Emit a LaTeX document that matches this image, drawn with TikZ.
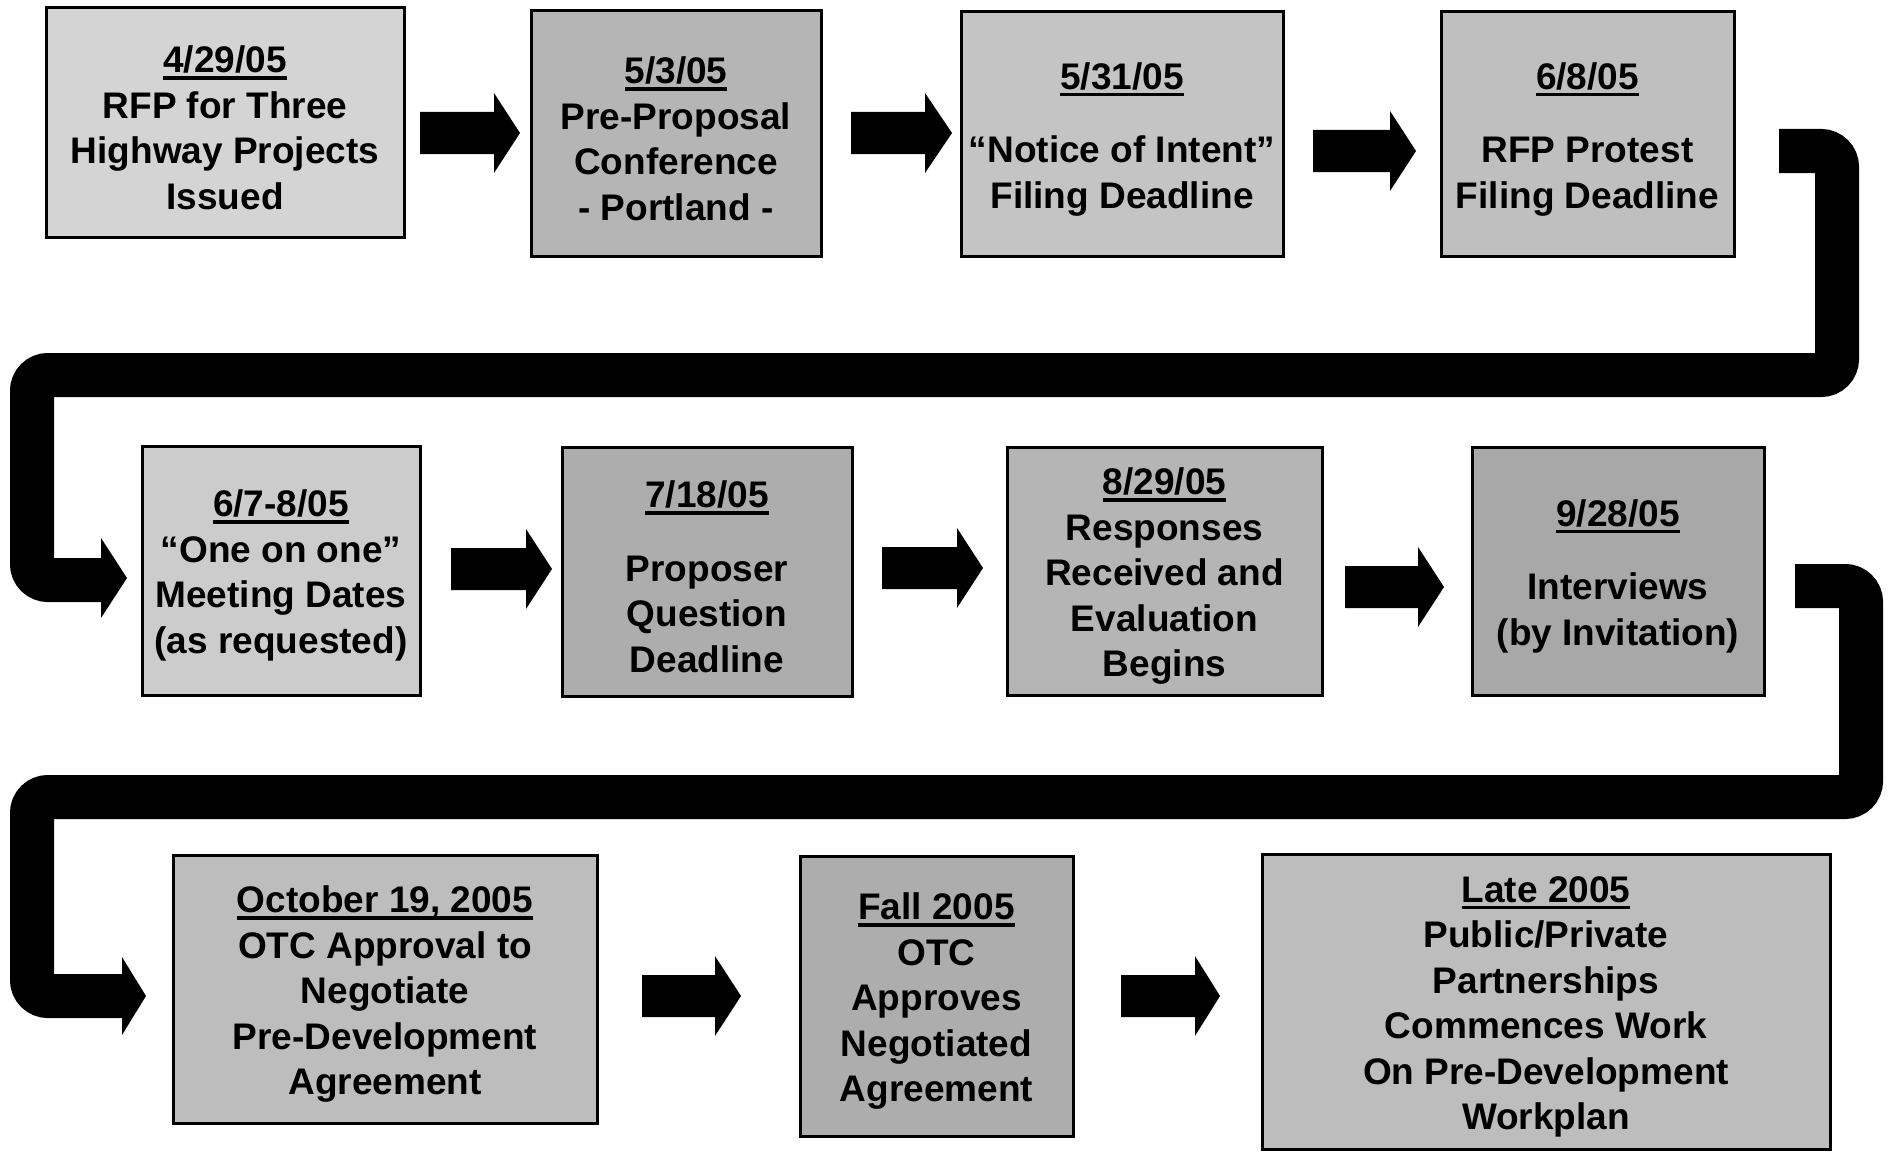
\documentclass[tikz,border=0pt]{standalone}
\usepackage{fontspec}
\setmainfont{Liberation Sans}
\definecolor{ga}{gray}{0.83}
\definecolor{gb}{gray}{0.71}
\definecolor{gc}{gray}{0.77}
\definecolor{gd}{gray}{0.75}
\definecolor{ge}{gray}{0.80}
\definecolor{gf}{gray}{0.68}
\definecolor{gg}{gray}{0.71}
\definecolor{gh}{gray}{0.66}
\definecolor{gi}{gray}{0.74}
\definecolor{gj}{gray}{0.68}
\definecolor{gk}{gray}{0.74}
\newcommand{\dateline}[1]{\setbox0=\hbox{#1}\leavevmode\rule{0pt}{37pt}\rlap{\rule[-7pt]{\wd0}{3.5pt}}\box0}
\newcommand{\blockarr}[4]{\fill[black] (#1,#4-21) -- (#2,#4-21) -- (#2,#4-40) -- (#3,#4) -- (#2,#4+40) -- (#2,#4+21) -- (#1,#4+21) -- cycle;}
\tikzset{
  box/.style={draw=black, line width=3pt, inner sep=0pt, align=center,
    font=\bfseries\fontsize{37}{45.5}\selectfont, text=black},
  flow/.style={draw=black, line width=44pt, rounded corners=16pt},
  tiphead/.style={fill=black}
}
\begin{document}
\begin{tikzpicture}[x=1pt,y=-1pt]
\useasboundingbox (0,0) rectangle (1889,1153);
\fill[white] (0,0) rectangle (1889,1153);

% row 1
\node[box, fill=ga, minimum width=358pt, minimum height=229pt] (b1) at (225,122.5)
  {\dateline{4/29/05}\\RFP for Three\\Highway Projects\\Issued};
\node[box, fill=gb, minimum width=290pt, minimum height=245pt] (b2) at (676,133.5)
  {\dateline{5/3/05}\\Pre-Proposal\\Conference\\- Portland -};
\node[box, fill=gc, minimum width=322pt, minimum height=244pt] (b3) at (1122,134)
  {\dateline{5/31/05}\\[28pt]“Notice of Intent”\\Filing Deadline};
\node[box, fill=gd, minimum width=293pt, minimum height=244pt] (b4) at (1587.5,134)
  {\dateline{6/8/05}\\[28pt]RFP Protest\\Filing Deadline};

% row 2
\node[box, fill=ge, minimum width=278pt, minimum height=249pt] (b5) at (281,570.5)
  {\dateline{6/7-8/05}\\“One on one”\\Meeting Dates\\(as requested)};
\node[box, fill=gf, minimum width=290pt, minimum height=249pt] (b6) at (707,571.5)
  {\dateline{7/18/05}\\[28pt]Proposer\\Question\\Deadline};
\node[box, fill=gg, minimum width=315pt, minimum height=248pt] (b7) at (1164.5,571)
  {\dateline{8/29/05}\\Responses\\Received and\\Evaluation\\Begins};
\node[box, fill=gh, minimum width=292pt, minimum height=248pt] (b8) at (1618,571)
  {\dateline{9/28/05}\\[28pt]Interviews\\(by Invitation)};

% row 3
\node[box, fill=gi, minimum width=424pt, minimum height=268pt] (b9) at (385,989)
  {\dateline{October 19, 2005}\\OTC Approval to\\Negotiate\\Pre-Development\\Agreement};
\node[box, fill=gj, minimum width=273pt, minimum height=280pt] (b10) at (936.5,996)
  {\dateline{Fall 2005}\\OTC\\Approves\\Negotiated\\Agreement};
\node[box, fill=gk, minimum width=568pt, minimum height=295pt] (b11) at (1546,1001.5)
  {\dateline{Late 2005}\\Public/Private\\Partnerships\\Commences Work\\On Pre-Development\\Workplan};

% block arrows between boxes
\blockarr{420}{494}{520}{133}
\blockarr{851}{925}{952}{133}
\blockarr{1313}{1390}{1416}{151}
\blockarr{451}{526}{552}{569}
\blockarr{882}{957}{983}{568}
\blockarr{1345}{1418}{1444}{587}
\blockarr{642}{715}{741}{996}
\blockarr{1121}{1195}{1220}{996}

% wrap-around connectors
\coordinate (c1s) at (1779,151);
\coordinate (c1e) at (101,580);
\draw[flow] (c1s) -- (1837,151) -- (1837,375) -- (32,375) -- (32,580) -- (c1e);
\fill[tiphead] (101,538) -- (127,578) -- (101,618) -- cycle;

\coordinate (c2s) at (1795,586);
\coordinate (c2e) at (122,996);
\draw[flow] (c2s) -- (1861,586) -- (1861,797) -- (32,797) -- (32,996) -- (c2e);
\fill[tiphead] (122,957) -- (146,996) -- (122,1035) -- cycle;
\end{tikzpicture}
\end{document}
